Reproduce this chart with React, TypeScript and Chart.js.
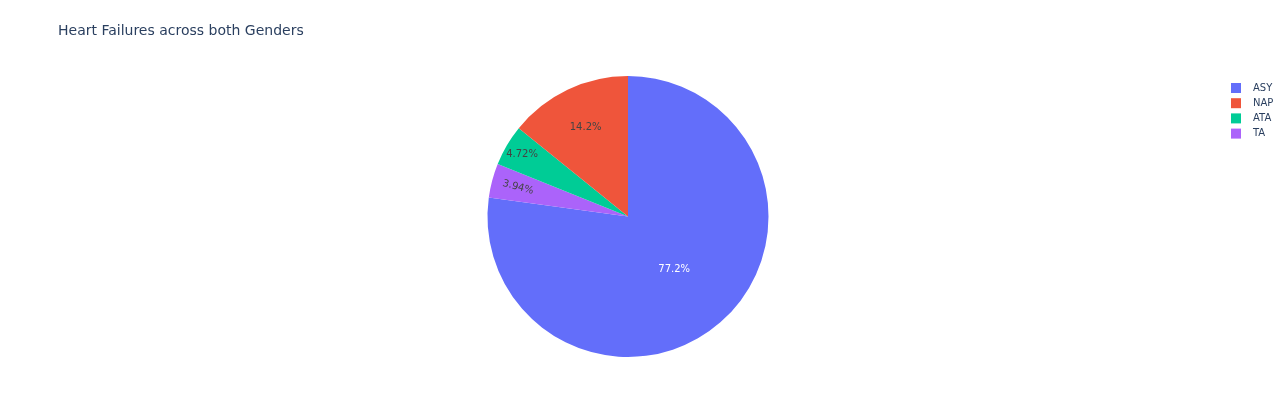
import React, { useEffect, useRef } from "react";
import { Chart, registerables } from "chart.js";

Chart.register(...registerables);

// Data order is clockwise from 12 o'clock, as drawn
const categories = ["ASY", "TA", "ATA", "NAP"];
const counts = [392, 20, 24, 72];
const sliceColors = ["#636efa", "#ab63fa", "#00cc96", "#EF553B"];
const legendOrder = ["ASY", "NAP", "ATA", "TA"];
const titleText = "Heart Failures across both Genders";

// label styling (radius fraction where text sits, orientation, colour)
const labelRadiusFrac = [0.5, 0.81, 0.875, 0.7];
const labelRadial = [false, true, false, false];
const labelColors = ["#ffffff", "#444444", "#444444", "#444444"];

const FONT = '"DejaVu Sans", sans-serif';

const overlayPlugin = {
  id: "overlay",
  afterDatasetsDraw(chart: any) {
    const ctx = chart.ctx;
    const meta = chart.getDatasetMeta(0);
    const data = chart.data.datasets[0].data as number[];
    const total = data.reduce((a, b) => a + b, 0);
    ctx.save();
    meta.data.forEach((arc: any, i: number) => {
      const mid = (arc.startAngle + arc.endAngle) / 2;
      const r = arc.outerRadius * labelRadiusFrac[i];
      const x = arc.x + Math.cos(mid) * r;
      const y = arc.y + Math.sin(mid) * r;
      const txt = ((data[i] / total) * 100).toPrecision(3) + "%";
      ctx.save();
      ctx.translate(x, y);
      if (labelRadial[i]) {
        let rot = mid;
        while (rot > Math.PI / 2) rot -= Math.PI;
        while (rot <= -Math.PI / 2) rot += Math.PI;
        ctx.rotate(rot);
      }
      ctx.font = `10px ${FONT}`;
      ctx.fillStyle = labelColors[i];
      ctx.textAlign = "center";
      ctx.textBaseline = "middle";
      ctx.fillText(txt, 0, 0);
      ctx.restore();
    });
    ctx.restore();
  },
  afterDraw(chart: any) {
    const ctx = chart.ctx;
    ctx.save();
    // title
    ctx.font = `14px ${FONT}`;
    ctx.fillStyle = "#2a3f5f";
    ctx.textAlign = "left";
    ctx.textBaseline = "alphabetic";
    ctx.fillText(titleText, 58, 35);
    // legend
    const labels = chart.data.labels as string[];
    const colors = chart.data.datasets[0].backgroundColor as string[];
    legendOrder.forEach((name, k) => {
      const idx = labels.indexOf(name);
      const cy = 88 + k * 15.2;
      ctx.fillStyle = colors[idx];
      ctx.fillRect(1231, cy - 5, 10, 10);
      ctx.font = `10px ${FONT}`;
      ctx.fillStyle = "#2a3f5f";
      ctx.textBaseline = "middle";
      ctx.fillText(name, 1253, cy);
    });
    ctx.restore();
  },
};

export default function App() {
  const ref = useRef<HTMLCanvasElement>(null);
  useEffect(() => {
    document.body.style.margin = "0";
    const chart = new Chart(ref.current!, {
      type: "pie",
      data: {
        labels: categories,
        datasets: [
          {
            data: counts,
            backgroundColor: sliceColors,
            borderWidth: 0,
          },
        ],
      },
      options: {
        animation: false,
        responsive: true,
        maintainAspectRatio: false,
        layout: { padding: { top: 76, bottom: 60, left: 487, right: 511 } },
        plugins: {
          legend: { display: false },
          title: { display: false },
          tooltip: { enabled: false },
        },
      },
      plugins: [overlayPlugin],
    });
    return () => chart.destroy();
  }, []);
  return (
    <div style={{ width: 1280, height: 417, position: "relative", background: "#fff" }}>
      <canvas ref={ref} />
    </div>
  );
}
